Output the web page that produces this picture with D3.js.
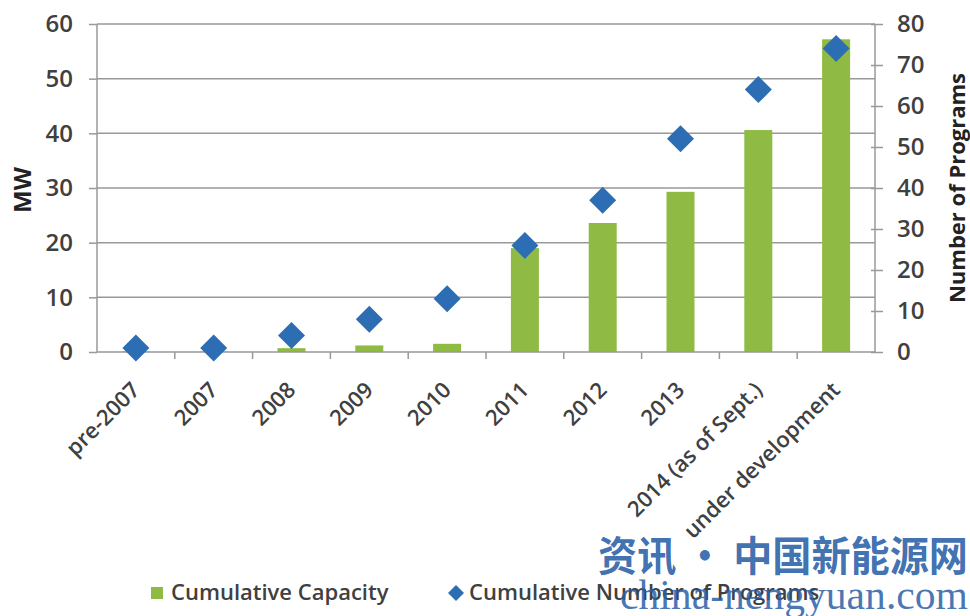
<!DOCTYPE html>
<html><head><meta charset="utf-8">
<script src="https://cdn.jsdelivr.net/npm/d3@7"></script>
<style>body{margin:0;background:#fff;} svg{display:block;}</style>
</head><body>
<script>
const categories = ["pre-2007","2007","2008","2009","2010","2011","2012","2013","2014 (as of Sept.)","under development"];
const capacityMW = [0.1,0.1,0.7,1.2,1.5,19,23.6,29.3,40.6,57.2];
const programs = [1,1,4,8,13,26,37,52,64,74];
const leftTicks = [0,10,20,30,40,50,60];
const rightTicks = [0,10,20,30,40,50,60,70,80];

const W=970,H=616;
const m={left:97,right:875,top:24,bottom:352};
const svg=d3.select("body").append("svg").attr("width",W).attr("height",H);
const font="'Open Sans', 'Liberation Sans', sans-serif";
const txt="#404040";
const axisCol="#999";

const x=d3.scaleBand().domain(categories).range([m.left,m.right]).paddingInner(0.64).paddingOuter(0.32);
const xb=d3.scaleBand().domain(categories).range([m.left,m.right]);
const yL=d3.scaleLinear().domain([0,60]).range([m.bottom,m.top]);
const yR=d3.scaleLinear().domain([0,80]).range([m.bottom,m.top]);

// gridlines
svg.append("g").selectAll("line").data(leftTicks.filter(d=>d>0)).join("line")
  .attr("x1",m.left).attr("x2",m.right).attr("y1",d=>yL(d)).attr("y2",d=>yL(d))
  .attr("stroke",axisCol).attr("stroke-width",1.5);

// bars
svg.append("g").selectAll("rect").data(categories).join("rect")
  .attr("x",d=>x(d)).attr("width",x.bandwidth())
  .attr("y",(d,i)=>yL(capacityMW[i])).attr("height",(d,i)=>m.bottom-yL(capacityMW[i]))
  .attr("fill","#8fbb45");

// left axis
const gl=svg.append("g").attr("transform",`translate(${m.left},0)`)
  .call(d3.axisLeft(yL).tickValues(leftTicks).tickSize(8).tickPadding(16));
gl.select(".domain").attr("stroke",axisCol).attr("stroke-width",1.5).attr("d",`M0,${m.top}V${m.bottom}`);
gl.selectAll(".tick line").attr("stroke",axisCol).attr("stroke-width",1.5);
gl.selectAll("text").attr("font-family",font).attr("font-size",24).attr("font-weight",600).attr("fill",txt);

// right axis
const gr=svg.append("g").attr("transform",`translate(${m.right},0)`)
  .call(d3.axisRight(yR).tickValues(rightTicks).tickSize(8).tickPadding(14));
gr.select(".domain").attr("stroke",axisCol).attr("stroke-width",1.5).attr("d",`M0,${m.top}V${m.bottom}`);
gr.selectAll(".tick line").attr("stroke",axisCol).attr("stroke-width",1.5).attr("x1",-4).attr("x2",8);
gr.selectAll("text").attr("font-family",font).attr("font-size",24).attr("font-weight",600).attr("fill",txt);

// bottom axis
svg.append("line").attr("x1",m.left).attr("x2",m.right).attr("y1",m.bottom).attr("y2",m.bottom)
  .attr("stroke",axisCol).attr("stroke-width",1.5);
svg.append("g").selectAll("line").data(categories.slice(1)).join("line")
  .attr("x1",d=>xb(d)).attr("x2",d=>xb(d)).attr("y1",m.bottom).attr("y2",m.bottom+7)
  .attr("stroke",axisCol).attr("stroke-width",1.5);
svg.append("g").selectAll("text").data(categories).join("text")
  .attr("transform",d=>`translate(${xb(d)+xb.bandwidth()/2-4},${m.bottom+30}) rotate(-45)`)
  .attr("text-anchor","end").attr("dy","0.6em")
  .attr("font-family",font).attr("font-size",22).attr("font-weight",600).attr("fill",txt)
  .text(d=>d);

// diamonds
const r=13.5;
svg.append("g").selectAll("path").data(categories).join("path")
  .attr("transform",(d,i)=>`translate(${xb(d)+xb.bandwidth()/2},${yR(programs[i])})`)
  .attr("d",`M0,${-r}L${r},0L0,${r}L${-r},0Z`)
  .attr("fill","#2d6db3");

// axis titles
svg.append("text").attr("transform",`translate(31,${(m.top+m.bottom)/2+2}) rotate(-90)`)
  .attr("text-anchor","middle").attr("font-family",font).attr("font-size",24).attr("font-weight",700).attr("fill","#222").text("MW");
svg.append("text").attr("transform",`translate(965,${(m.top+m.bottom)/2}) rotate(-90)`)
  .attr("text-anchor","middle").attr("font-family",font).attr("font-size",22).attr("font-weight",700).attr("fill","#222").text("Number of Programs");

// legend
svg.append("rect").attr("x",151).attr("y",587).attr("width",12).attr("height",12).attr("fill","#8fbb45");
svg.append("text").attr("x",171).attr("y",600).attr("font-family",font).attr("font-size",22).attr("font-weight",600).attr("fill",txt).text("Cumulative Capacity");
svg.append("path").attr("transform","translate(456,593)").attr("d","M0,-8L8,0L0,8L-8,0Z").attr("fill","#2d6db3");
svg.append("text").attr("x",469).attr("y",600).attr("font-family",font).attr("font-size",22).attr("font-weight",600).attr("fill",txt).text("Cumulative Number of Programs");

// watermark
svg.append("text").attr("x",598).attr("y",571).attr("textLength",370).attr("lengthAdjust","spacingAndGlyphs")
  .attr("font-family","'Noto Sans CJK SC', sans-serif").attr("font-size",41).attr("font-weight",700).attr("fill","#2a5fa8").attr("fill-opacity",0.9).text("资讯 · 中国新能源网");
svg.append("text").attr("x",620).attr("y",609).attr("textLength",348).attr("lengthAdjust","spacingAndGlyphs")
  .attr("font-family","'Liberation Serif', serif").attr("font-size",42).attr("fill","#2a5fa8").attr("fill-opacity",0.85).text("china-nengyuan.com");
</script>
</body></html>
